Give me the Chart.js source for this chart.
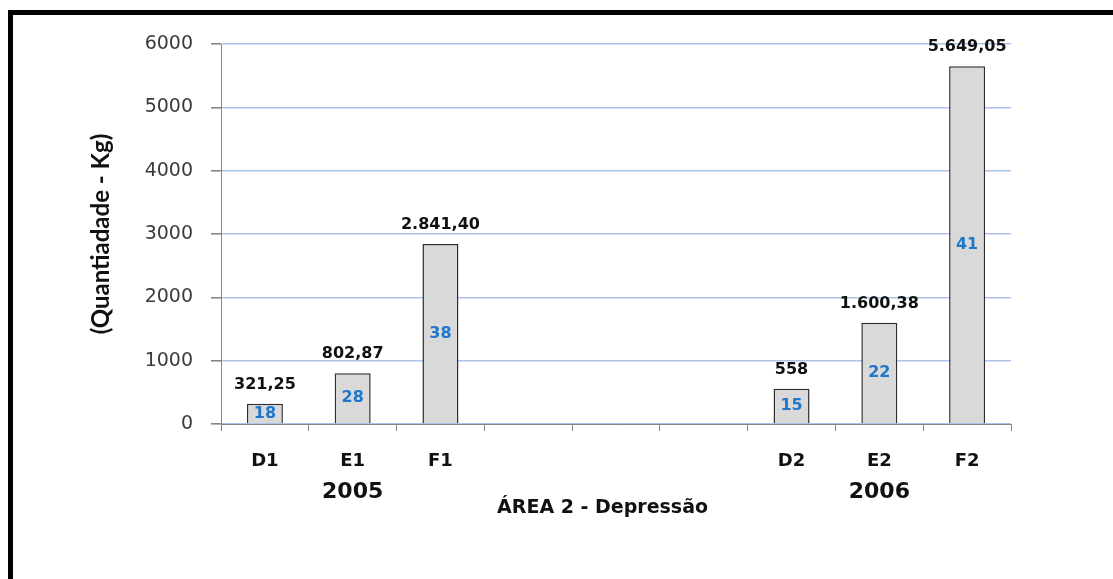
<!DOCTYPE html>
<html>
<head>
<meta charset="utf-8">
<script src="https://cdn.jsdelivr.net/npm/chart.js@4.4.1/dist/chart.umd.min.js"></script>
<style>
  html, body { margin: 0; padding: 0; background: #ffffff; }
  #wrap { width: 1113px; height: 579px; position: relative; }
</style>
</head>
<body>
<div id="wrap"><canvas id="chart" width="1113" height="579"></canvas></div>
<script>
// Sampling points (three empty slots separate the two years)
const categories = ['D1', 'E1', 'F1', '', '', '', 'D2', 'E2', 'F2'];
// Collected quantity per point, in kg
const quantities = [321.25, 802.87, 2841.40, null, null, null, 558, 1600.38, 5649.05];
// Number of items collected per point
const counts = [18, 28, 38, null, null, null, 15, 22, 41];
// Year groups and the category each year label sits under
const years = ['2005', '2006'];
const yearAnchors = ['E1', 'E2'];
// Value axis
const yTicks = [0, 1000, 2000, 3000, 4000, 5000, 6000];

const FONT = '"DejaVu Sans", Verdana, sans-serif';

// Brazilian number format: 5.649,05 (integers without decimals)
function fmtBR(v) {
  const isInt = Number.isInteger(v);
  const fixed = isInt ? String(v) : v.toFixed(2);
  const [intPart, dec] = fixed.split('.');
  const grouped = intPart.replace(/\B(?=(\d{3})+(?!\d))/g, '.');
  return dec ? grouped + ',' + dec : grouped;
}

const annotations = {
  id: 'annotations',
  afterDatasetsDraw(chart) {
    const ctx = chart.ctx;
    const meta = chart.getDatasetMeta(0);
    ctx.save();
    ctx.textAlign = 'center';
    ctx.textBaseline = 'middle';
    meta.data.forEach((bar, i) => {
      if (quantities[i] == null) return;
      ctx.font = 'bold 16px ' + FONT;
      ctx.fillStyle = '#111111';
      ctx.fillText(fmtBR(quantities[i]), bar.x, bar.y - 19);
      ctx.fillStyle = '#1f77c8';
      ctx.fillText(String(counts[i]), bar.x, (bar.y + bar.base) / 2);
    });
    ctx.restore();
  },
  afterDraw(chart) {
    const ctx = chart.ctx;
    const area = chart.chartArea;
    const xs = chart.scales.x;
    ctx.save();
    // frame
    ctx.fillStyle = '#000000';
    ctx.fillRect(8, 10, chart.width - 8, 5);
    ctx.fillRect(8, 10, 5, chart.height - 10);

    ctx.textAlign = 'center';
    ctx.textBaseline = 'middle';
    ctx.fillStyle = '#111111';
    // year labels
    ctx.font = 'bold 22px ' + FONT;
    years.forEach((y, k) => {
      const idx = categories.indexOf(yearAnchors[k]);
      ctx.fillText(y, xs.getPixelForValue(idx), 492);
    });
    // category axis title
    ctx.font = 'bold 19px ' + FONT;
    ctx.fillText('ÁREA 2 - Depressão', area.left + (area.right - area.left) * 0.483, 508);
    // value axis title
    ctx.save();
    ctx.translate(101, (area.top + area.bottom) / 2);
    ctx.rotate(-Math.PI / 2);
    ctx.font = 'bold 24px Lato, "Open Sans", sans-serif';
    ctx.fillText('(Quantiadade - Kg)', 0, 0);
    ctx.restore();
    ctx.restore();
  }
};

new Chart(document.getElementById('chart'), {
  type: 'bar',
  data: {
    labels: categories,
    datasets: [{
      data: quantities,
      backgroundColor: '#d9d9d9',
      borderColor: '#2e2e2e',
      borderWidth: 1.5,
      barPercentage: 0.41,
      categoryPercentage: 1
    }]
  },
  options: {
    responsive: false,
    animation: false,
    layout: { padding: { left: 0, right: 102, top: 44, bottom: 0 } },
    plugins: { legend: { display: false }, tooltip: { enabled: false } },
    scales: {
      x: {
        afterFit(s) { s.height = 155; },
        grid: {
          offset: true,
          drawOnChartArea: false,
          drawTicks: true,
          tickLength: 7,
          tickColor: '#868686',
          color: '#868686'
        },
        border: { color: '#868686', width: 1 },
        ticks: {
          color: '#111111',
          padding: 20,
          maxRotation: 0,
          autoSkip: false,
          font: { family: FONT, size: 18, weight: 'bold' }
        }
      },
      y: {
        min: yTicks[0],
        max: yTicks[yTicks.length - 1],
        afterFit(s) { s.width = 221; },
        afterBuildTicks(s) { s.ticks = yTicks.map(v => ({ value: v })); },
        grid: {
          color: '#abc2ea',
          lineWidth: 1.6,
          tickColor: '#868686',
          tickLength: 10
        },
        border: { color: '#868686', width: 1 },
        ticks: {
          color: '#3a3a3a',
          padding: 18,
          callback: v => String(v),
          font: { family: FONT, size: 19 }
        }
      }
    }
  },
  plugins: [annotations]
});
</script>
</body>
</html>
